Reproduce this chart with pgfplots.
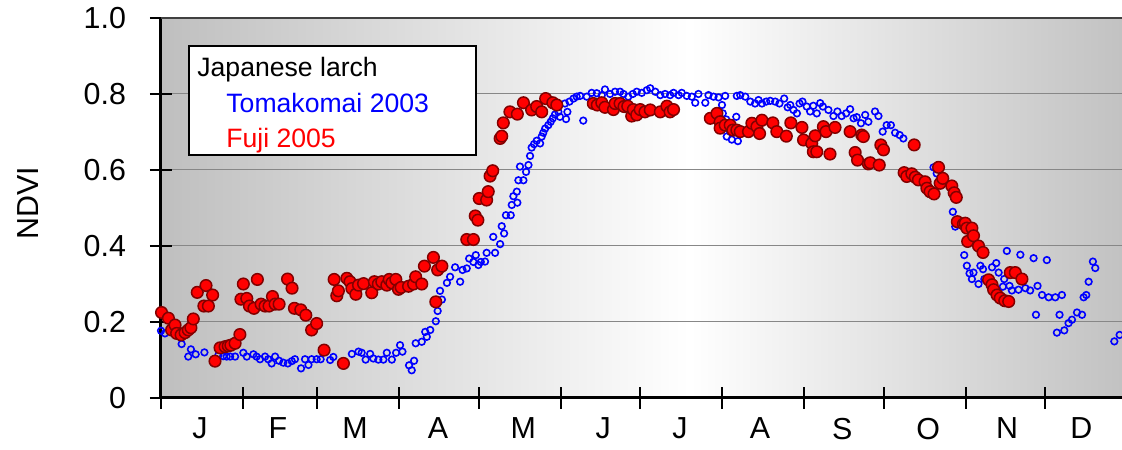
\documentclass[border=0pt]{standalone}
\usepackage{fontspec}
\setmainfont{Liberation Sans}
\usepackage{pgfplots}
\pgfplotsset{compat=1.18}

\definecolor{bgedgeL}{RGB}{191,191,191}
\definecolor{bgedgeR}{RGB}{194,194,194}
\definecolor{fujiedge}{RGB}{130,0,0}
\definecolor{gridgray}{RGB}{135,135,135}

% seasonal background: grey at both ends, white in early summer
\pgfdeclarehorizontalshading{ndvibg}{100bp}{%
  color(0bp)=(bgedgeL); color(25bp)=(bgedgeL); color(52.5bp)=(white);
  color(75bp)=(bgedgeR); color(100bp)=(bgedgeR)}

\newcommand\axfont{\fontsize{15.2}{18}\selectfont}
\newcommand\legfont{\fontsize{13.3}{16}\selectfont}

\begin{document}
\begin{tikzpicture}
\begin{axis}[
  scale only axis, width=480.5pt, height=190pt,
  at={(0,0)}, anchor=south west,
  xmin=0, xmax=363, ymin=0, ymax=1,
  clip=false,
  axis background/.style={shading=ndvibg},
  axis x line*=bottom, axis y line*=left,
  axis line style={line width=1.5pt, black},
  xtick={0,31,59,90,120,151,181,212,243,273,304,334},
  xticklabels={},
  extra x ticks={14.7,44.2,73.3,104.6,136.8,167,196,226.3,257.3,289.8,319.6,347.6},
  extra x tick labels={J,F,M,A,M,J,J,A,S,O,N,D},
  extra x tick style={major tick length=0pt, grid=none},
  ytick={0,0.2,0.4,0.6,0.8,1},
  yticklabels={0,0.2,0.4,0.6,0.8,1.0},
  tick align=center, major tick length=11pt,
  every tick/.style={black, line width=1pt},
  ymajorgrids, major grid style={line width=0.5pt, gridgray},
  /pgf/number format/assume math mode=true,
  tick label style={font=\axfont},
  yticklabel style={xshift=-8.5pt},
  xticklabel style={yshift=-6.5pt},
]
% Tomakomai 2003
\addplot[only marks, mark=o, mark size=1.65pt,
  mark options={draw=blue, line width=0.8pt}] table {
0.0 0.177
1.5 0.170
7.8 0.142
10.3 0.109
11.3 0.128
13.1 0.115
16.4 0.120
21.7 0.113
23.5 0.110
24.8 0.109
26.1 0.109
28.0 0.109
31.1 0.119
32.4 0.109
34.9 0.115
36.1 0.109
37.4 0.102
39.3 0.109
40.5 0.102
41.8 0.091
43.1 0.109
44.6 0.098
46.2 0.093
47.9 0.091
49.4 0.097
50.6 0.102
52.9 0.078
54.4 0.102
55.7 0.087
56.9 0.102
58.8 0.102
60.3 0.102
63.9 0.100
65.1 0.108
72.1 0.116
74.6 0.122
75.8 0.119
77.3 0.101
79.0 0.116
80.2 0.104
82.1 0.101
84.0 0.101
85.3 0.119
87.2 0.101
88.8 0.119
90.3 0.139
91.2 0.122
93.7 0.086
94.7 0.073
95.6 0.098
96.2 0.144
98.5 0.148
99.8 0.174
100.4 0.161
101.7 0.179
103.8 0.202
104.5 0.229
105.4 0.282
106.1 0.259
108.0 0.303
109.2 0.319
111.1 0.344
113.0 0.306
113.9 0.337
115.5 0.341
116.4 0.367
118.0 0.358
118.9 0.376
119.9 0.350
120.8 0.358
122.4 0.359
123.0 0.382
125.5 0.424
126.2 0.382
128.1 0.405
128.7 0.452
129.6 0.433
130.3 0.481
132.1 0.481
132.5 0.508
133.1 0.531
134.4 0.543
134.6 0.514
135.0 0.573
135.6 0.609
136.9 0.573
137.9 0.595
138.8 0.613
139.4 0.637
140.0 0.659
140.9 0.668
141.9 0.677
143.2 0.670
143.8 0.688
144.4 0.698
145.1 0.709
146.3 0.718
147.2 0.727
148.0 0.736
148.8 0.746
150.1 0.753
150.7 0.740
152.6 0.775
153.0 0.734
153.5 0.753
154.3 0.780
155.8 0.788
157.0 0.793
158.3 0.795
159.5 0.730
160.8 0.793
162.7 0.803
164.6 0.802
166.5 0.797
167.7 0.812
169.6 0.800
171.5 0.806
173.4 0.806
174.7 0.800
176.5 0.793
178.2 0.800
179.7 0.806
181.6 0.803
183.5 0.810
184.8 0.815
186.7 0.806
188.6 0.797
190.4 0.800
192.3 0.797
193.6 0.803
195.5 0.797
196.7 0.803
198.6 0.795
200.5 0.793
201.8 0.777
203.0 0.800
205.6 0.777
206.8 0.797
208.7 0.793
210.6 0.791
211.9 0.771
212.2 0.749
213.1 0.795
213.5 0.733
213.7 0.688
215.0 0.701
215.6 0.680
217.3 0.740
217.5 0.795
217.9 0.676
218.8 0.797
220.7 0.793
222.6 0.780
224.4 0.775
225.7 0.784
227.0 0.775
228.6 0.780
230.1 0.782
232.0 0.780
233.6 0.775
235.4 0.788
236.7 0.765
237.7 0.771
238.9 0.758
240.2 0.749
241.2 0.775
242.3 0.780
243.9 0.767
245.2 0.754
246.4 0.769
247.7 0.749
249.0 0.776
250.0 0.767
252.1 0.758
254.0 0.742
255.5 0.754
257.1 0.742
258.8 0.749
260.3 0.760
261.6 0.736
262.8 0.739
264.4 0.723
266.0 0.745
267.2 0.727
269.7 0.754
271.0 0.742
272.6 0.701
274.1 0.718
275.7 0.718
277.3 0.698
279.0 0.692
280.4 0.683
291.8 0.607
293.0 0.591
299.1 0.490
300.0 0.451
303.4 0.376
304.4 0.348
305.4 0.328
306.3 0.313
306.9 0.330
308.8 0.300
309.5 0.348
310.5 0.339
311.0 0.313
313.9 0.344
315.5 0.355
316.4 0.330
318.0 0.293
318.5 0.313
319.5 0.387
320.5 0.295
321.4 0.283
323.9 0.285
324.6 0.377
326.5 0.289
328.3 0.283
329.6 0.368
330.5 0.219
331.1 0.295
332.8 0.271
334.6 0.363
335.3 0.265
337.8 0.265
338.4 0.172
339.4 0.219
340.3 0.271
341.2 0.178
342.8 0.197
344.1 0.206
346.0 0.225
347.9 0.219
348.5 0.265
349.5 0.271
350.4 0.306
352.0 0.359
352.9 0.342
360.1 0.149
362.1 0.166
};
% Fuji 2005
\addplot[only marks, mark=*, mark size=2.9pt,
  mark options={draw=fujiedge, fill=red, line width=0.75pt}] table {
0.2 0.225
2.8 0.210
4.0 0.179
5.3 0.192
5.9 0.170
7.6 0.166
9.1 0.172
10.3 0.179
11.3 0.185
12.2 0.208
13.7 0.278
16.2 0.242
17.0 0.296
17.9 0.242
19.5 0.271
20.4 0.097
22.3 0.132
24.2 0.135
25.4 0.137
26.4 0.139
28.0 0.144
29.8 0.167
30.2 0.260
31.1 0.300
32.4 0.262
33.4 0.242
35.1 0.236
36.4 0.312
37.8 0.247
39.3 0.242
40.8 0.242
42.1 0.267
43.1 0.247
44.6 0.247
47.8 0.313
49.5 0.289
50.4 0.236
52.8 0.232
54.7 0.218
56.9 0.179
58.8 0.196
61.6 0.126
65.4 0.312
66.4 0.269
67.0 0.282
68.9 0.091
70.2 0.315
71.4 0.306
72.1 0.288
73.6 0.273
74.6 0.297
76.5 0.301
79.6 0.277
80.6 0.306
82.1 0.300
83.4 0.306
85.3 0.297
86.2 0.312
87.2 0.303
88.7 0.312
89.7 0.286
90.7 0.291
93.5 0.294
95.4 0.300
96.2 0.319
98.5 0.300
99.5 0.347
102.9 0.370
103.8 0.253
104.5 0.337
106.1 0.347
115.5 0.417
118.0 0.417
118.7 0.479
119.7 0.468
120.2 0.525
123.0 0.521
123.6 0.543
124.3 0.584
125.3 0.598
128.1 0.683
128.7 0.689
129.3 0.724
131.8 0.753
134.6 0.747
136.9 0.777
140.0 0.758
141.9 0.767
143.8 0.753
145.3 0.788
148.0 0.777
149.5 0.771
163.3 0.775
164.8 0.771
166.5 0.777
167.7 0.765
170.9 0.759
171.5 0.775
173.4 0.775
174.9 0.767
176.3 0.768
177.8 0.742
178.4 0.759
179.7 0.745
181.0 0.759
182.8 0.753
184.8 0.758
188.6 0.753
191.1 0.768
192.3 0.753
193.6 0.759
207.5 0.736
210.0 0.749
211.2 0.727
211.2 0.710
213.1 0.718
215.0 0.718
216.0 0.705
217.5 0.705
218.8 0.701
221.9 0.701
223.2 0.723
225.1 0.714
226.1 0.696
227.0 0.731
231.1 0.724
232.6 0.701
236.2 0.689
237.9 0.724
242.1 0.712
242.7 0.679
245.8 0.670
246.4 0.648
247.1 0.690
247.7 0.648
250.2 0.714
251.2 0.701
252.7 0.642
254.6 0.712
260.3 0.701
262.2 0.646
263.1 0.626
264.7 0.692
265.3 0.688
267.2 0.616
267.9 0.619
271.3 0.613
271.9 0.666
272.9 0.653
280.7 0.593
281.7 0.583
283.6 0.590
284.5 0.666
284.9 0.581
286.1 0.574
288.6 0.569
289.3 0.552
290.5 0.543
292.0 0.537
293.7 0.607
294.3 0.565
295.3 0.578
298.7 0.558
299.6 0.540
300.4 0.528
300.8 0.464
303.1 0.458
303.8 0.460
304.4 0.447
304.7 0.412
306.3 0.447
306.9 0.427
308.8 0.400
310.5 0.383
312.6 0.311
313.9 0.298
314.5 0.285
315.8 0.271
317.0 0.263
318.7 0.256
320.2 0.254
320.8 0.330
322.7 0.330
325.2 0.313
};
\end{axis}
% frame top
\draw[line width=1pt, black!75] (current axis.north west) -- (current axis.north east);
% y axis title
\node[rotate=90, font=\axfont] at ([shift={(-66.5pt,2.5pt)}]current axis.west) {NDVI};
% legend box
\draw[fill=white, draw=black, line width=1pt]
  ([shift={(14pt,-14pt)}]current axis.north west) rectangle ++(143.5pt,-54.5pt);
\node[anchor=base west, font=\legfont, inner sep=0pt]
  at ([shift={(18pt,-29.5pt)}]current axis.north west) {Japanese larch};
\node[anchor=base west, font=\legfont, text=blue, inner sep=0pt]
  at ([shift={(32.5pt,-47.5pt)}]current axis.north west) {Tomakomai 2003};
\node[anchor=base west, font=\legfont, text=red, inner sep=0pt]
  at ([shift={(32.5pt,-65pt)}]current axis.north west) {Fuji 2005};
\pgfresetboundingbox
\path[use as bounding box] ([shift={(-80.5pt,-26pt)}]current axis.south west)
  rectangle ([shift={(0pt,9pt)}]current axis.north east);
\end{tikzpicture}
\end{document}
